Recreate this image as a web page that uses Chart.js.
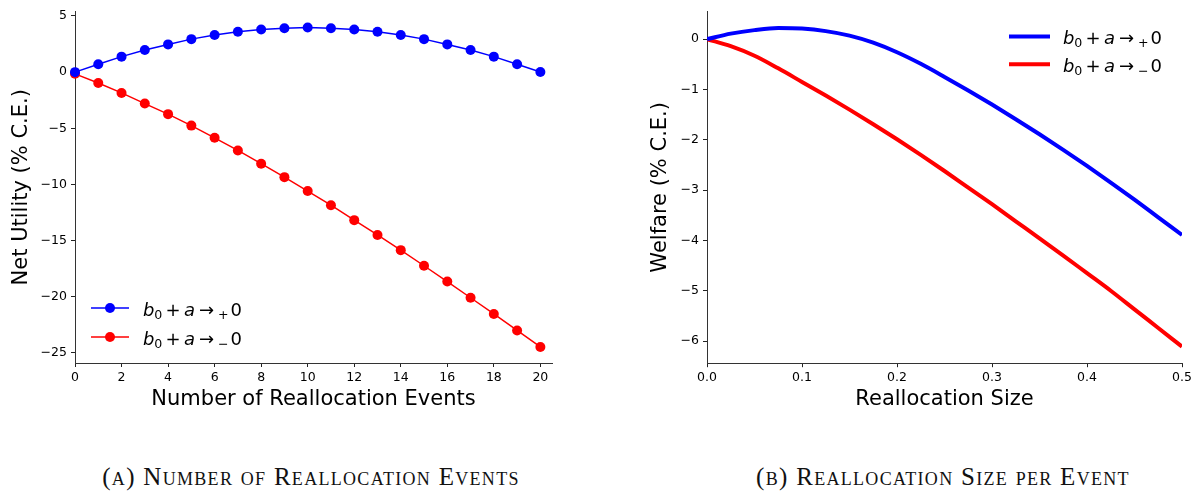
<!DOCTYPE html>
<html>
<head>
<meta charset="utf-8">
<script src="https://cdn.jsdelivr.net/npm/chart.js@4.4.1/dist/chart.umd.min.js"></script>
<style>
  html, body { margin: 0; padding: 0; background: #fff; }
  #wrap { position: relative; width: 1197px; height: 493px; overflow: hidden; background: #fff; }
  canvas { position: absolute; top: 0; }
  #chartA { left: 0; }
  #chartB { left: 600px; }
  .cap {
    position: absolute; top: 463px; transform: translateX(-50%);
    font-family: "Liberation Serif", "DejaVu Serif", serif; font-variant: small-caps;
    font-size: 25px; letter-spacing: 1.3px; color: #111; white-space: nowrap;
  }
</style>
</head>
<body>
<div id="wrap">
  <canvas id="chartA" width="600" height="420"></canvas>
  <canvas id="chartB" width="597" height="420"></canvas>
  <div class="cap" style="left:311px">(a) Number of Reallocation Events</div>
  <div class="cap" style="left:943px">(b) Reallocation Size per Event</div>
</div>
<script>
// panel (a): net utility against number of reallocation events
const events = [0, 1, 2, 3, 4, 5, 6, 7, 8, 9, 10, 11, 12, 13, 14, 15, 16, 17, 18, 19, 20];
const utilityPlus = [0, 0.70, 1.38, 1.97, 2.47, 2.94, 3.30, 3.59, 3.79, 3.91, 3.97,
                     3.91, 3.79, 3.59, 3.30, 2.94, 2.47, 1.97, 1.38, 0.70, 0.02];
const utilityMinus = [-0.15, -0.97, -1.85, -2.80, -3.74, -4.76, -5.85, -6.97, -8.15, -9.35, -10.59,
                      -11.85, -13.18, -14.50, -15.85, -17.24, -18.65, -20.09, -21.53, -23.00, -24.47];
const xTicksA = [0, 2, 4, 6, 8, 10, 12, 14, 16, 18, 20];
const yTicksA = [-25, -20, -15, -10, -5, 0, 5];

// panel (b): welfare against reallocation size per event
const sizes = [0, 0.025, 0.05, 0.075, 0.1, 0.125, 0.15, 0.175, 0.2, 0.225, 0.25,
               0.275, 0.3, 0.325, 0.35, 0.375, 0.4, 0.425, 0.45, 0.475, 0.5];
const welfarePlus = [0, 0.11, 0.18, 0.22, 0.21, 0.16, 0.07, -0.07, -0.26, -0.49, -0.75,
                     -1.02, -1.30, -1.59, -1.89, -2.20, -2.52, -2.85, -3.19, -3.54, -3.89];
const welfareMinus = [0, -0.14, -0.33, -0.58, -0.85, -1.12, -1.40, -1.69, -1.99, -2.30, -2.62,
                      -2.95, -3.28, -3.62, -3.96, -4.30, -4.65, -5.00, -5.37, -5.74, -6.11];
const xTicksB = [0, 0.1, 0.2, 0.3, 0.4, 0.5];
const yTicksB = [-6, -5, -4, -3, -2, -1, 0];

const BLUE = '#0000ff';
const RED = '#ff0000';

Chart.defaults.font.family = '"DejaVu Sans", sans-serif';
Chart.defaults.color = '#000';

function minusFmt(v, digits) {
    return v.toFixed(digits).replace('-', '\u2212');
}

function pairs(xs, ys) {
    return xs.map((x, i) => ({ x: x, y: ys[i] }));
}

function axis(min, max, ticks, digits, title, titlePad, fitSize, isX) {
    return {
        type: 'linear',
        min: min,
        max: max,
        afterBuildTicks: s => { s.ticks = ticks.map(v => ({ value: v })); },
        afterFit: s => { if (isX) s.height = fitSize; else s.width = fitSize; },
        grid: { drawOnChartArea: false, drawTicks: true, tickLength: 4, tickColor: '#222', tickWidth: 1 },
        border: { display: true, color: '#333', width: 1 },
        ticks: {
            font: { size: 12.5 }, color: '#000', padding: isX ? 3 : 4,
            maxRotation: 0, autoSkip: false,
            callback: v => minusFmt(v, digits)
        },
        title: {
            display: true, text: title, color: '#000', font: { size: 21 },
            padding: isX ? { top: 0, bottom: 7.5 } : { top: titlePad, bottom: 0 }
        }
    };
}

// b_0 + a -> {}_{+/-}0 written piece by piece (italic symbols, small subscripts)
function mathLabel(ctx, x, base, sign) {
    const it = 'italic 18px "DejaVu Sans"';
    const rm = '18px "DejaVu Sans"';
    const sm = '12.6px "DejaVu Sans"';
    const parts = [
        [0, 'b', it, 0], [11.3, '0', sm, 3], [22.5, '+', rm, 0], [41, 'a', it, 0],
        [56, '\u2192', rm, 0], [75, sign, sm, 3], [87.5, '0', rm, 0]
    ];
    ctx.fillStyle = '#000';
    ctx.textAlign = 'left';
    ctx.textBaseline = 'alphabetic';
    for (const p of parts) {
        ctx.font = p[2];
        ctx.fillText(p[1], x + p[0], base + p[3]);
    }
}

function legendPlugin(place) {
    return {
        id: 'mathLegend',
        afterDraw(chart) {
            const ctx = chart.ctx;
            const a = chart.chartArea;
            const spec = place(a);
            const series = [[BLUE, '+'], [RED, '\u2212']];
            ctx.save();
            series.forEach((s, i) => {
                const y = spec.y0 + i * spec.dy;
                ctx.strokeStyle = s[0];
                ctx.lineWidth = spec.lw;
                ctx.lineCap = 'butt';
                ctx.beginPath();
                ctx.moveTo(spec.x0, y);
                ctx.lineTo(spec.x0 + spec.len, y);
                ctx.stroke();
                if (spec.marker) {
                    ctx.fillStyle = s[0];
                    ctx.beginPath();
                    ctx.arc(spec.x0 + spec.len / 2, y, 5, 0, Math.PI * 2);
                    ctx.fill();
                }
                mathLabel(ctx, spec.tx, y + 7.5, s[1]);
            });
            ctx.restore();
        }
    };
}

new Chart(document.getElementById('chartA').getContext('2d'), {
    type: 'line',
    data: {
        datasets: [{
            data: pairs(events, utilityPlus),
            borderColor: BLUE, backgroundColor: BLUE, borderWidth: 1.5,
            pointRadius: 5, pointBorderWidth: 0, pointBackgroundColor: BLUE,
            tension: 0, clip: false
        }, {
            data: pairs(events, utilityMinus),
            borderColor: RED, backgroundColor: RED, borderWidth: 1.5,
            pointRadius: 5, pointBorderWidth: 0, pointBackgroundColor: RED,
            tension: 0, clip: false
        }]
    },
    options: {
        responsive: false,
        animation: false,
        devicePixelRatio: 1,
        layout: { padding: { left: 0, top: 8.8, right: 48, bottom: 0 } },
        plugins: { legend: { display: false }, tooltip: { enabled: false } },
        scales: {
            x: axis(0, 20.5, xTicksA, 0, 'Number of Reallocation Events', 0, 57, true),
            y: axis(-25.9, 5.4, yTicksA, 0, 'Net Utility (% C.E.)', 9.4, 75, false)
        }
    },
    plugins: [legendPlugin(a => ({
        x0: a.left + 16, len: 38, y0: a.bottom - 55, dy: 29, tx: a.left + 68, lw: 1.5, marker: true
    }))]
});

new Chart(document.getElementById('chartB').getContext('2d'), {
    type: 'line',
    data: {
        datasets: [{
            data: pairs(sizes, welfarePlus),
            borderColor: BLUE, borderWidth: 4, pointRadius: 0,
            cubicInterpolationMode: 'monotone', borderCapStyle: 'butt', clip: 0
        }, {
            data: pairs(sizes, welfareMinus),
            borderColor: RED, borderWidth: 4, pointRadius: 0,
            cubicInterpolationMode: 'monotone', borderCapStyle: 'butt', clip: 0
        }]
    },
    options: {
        responsive: false,
        animation: false,
        devicePixelRatio: 1,
        layout: { padding: { left: 0, top: 9.1, right: 15, bottom: 0 } },
        plugins: { legend: { display: false }, tooltip: { enabled: false } },
        scales: {
            x: axis(0, 0.5, xTicksB, 1, 'Reallocation Size', 0, 56.8, true),
            y: axis(-6.44, 0.55, yTicksB, 0, 'Welfare (% C.E.)', 48.4, 107, false)
        }
    },
    plugins: [legendPlugin(a => ({
        x0: a.right - 173, len: 41, y0: a.top + 25, dy: 27.7, tx: a.right - 119, lw: 4, marker: false
    }))]
});
</script>
</body>
</html>
